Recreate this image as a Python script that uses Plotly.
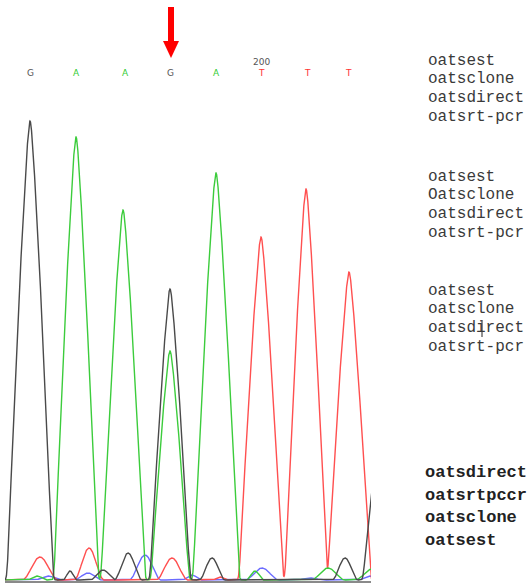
import numpy as np
import plotly.graph_objects as go

# Called bases and their scan positions
bases = ["G", "A", "A", "G", "A", "T", "T", "T"]
base_pos = [30, 76, 125, 170, 216, 261, 307, 348]
base_colors = {"G": "#555555", "A": "#33cc33", "T": "#ff3333", "C": "#4444ff"}

# Peaks per dye channel: (scan position, signal height, half base width)
g_peaks = [(30, 459, 23), (170, 291, 20), (70, 9, 7), (103, 10, 13), (128, 27, 14),
           (212, 22, 13), (345, 22, 13), (386, 202, 23)]
a_peaks = [(76, 443, 22), (123, 370, 22), (170, 229, 19), (216, 407, 23),
           (37, 4, 10), (255, 9, 9), (328, 12, 17), (372, 11, 17)]
t_peaks = [(40, 23, 18), (89, 32, 15), (172, 22, 16), (220, 3, 8),
           (261, 343, 22), (306, 391, 21), (349, 308, 21.5)]
c_peaks = [(48, 4, 14), (88, 7, 14), (145, 25, 16), (192, 5, 10),
           (262, 12, 17), (310, 2, 15), (370, 4, 12)]

channels = [
    ("C", c_peaks, "#6b6bff"),
    ("T", t_peaks, "#ff5050"),
    ("A", a_peaks, "#3ccc3c"),
    ("G", g_peaks, "#4a4a4a"),
]

# Sample names listed beside the trace
label_groups = [
    (["oatsest", "oatsclone", "oatsdirect", "oatsrt-pcr"], [61, 79, 98, 117]),
    (["oatsest", "Oatsclone", "oatsdirect", "oatsrt-pcr"], [177, 195, 214, 233]),
    (["oatsest", "oatsclone", "oatsdirect", "oatsrt-pcr"], [291, 309, 328, 347]),
]
bold_group = (["oatsdirect", "oatsrtpccr", "oatsclone", "oatsest"], [472, 495, 517, 540])

W, H = 528, 584
step = 0.1
scan = np.arange(0, 400 + step, step)

# small smoothing kernel to round the tips of the sharp peaks
ks = 1.0
kx = np.arange(-4 * ks, 4 * ks + step, step)
kernel = np.exp(-kx ** 2 / (2 * ks * ks))
kernel /= kernel.sum()


def peak_signal(peaks):
    total = np.zeros_like(scan)
    for c, h, w in peaks:
        d = np.abs(scan - c) / w
        if h >= 60:
            shape = np.clip(1 - d ** 1.25, 0, None)
            shape = np.convolve(shape, kernel, mode="same")
            total += h * shape / shape.max()
        else:
            total += h * np.where(d < 1, np.cos(np.pi * np.minimum(d, 1) / 2) ** 2, 0)
    return total


fig = go.Figure()
for name, peaks, color in channels:
    fig.add_trace(go.Scatter(x=scan, y=peak_signal(peaks), mode="lines", name=name,
                             line=dict(color=color, width=1.4),
                             hoverinfo="skip", showlegend=False))

annotations = []
# Base calls above the trace
for b, p in zip(bases, base_pos):
    annotations.append(dict(x=p, xref="x", y=1 - 73 / H, yref="paper", text=b,
                            showarrow=False, xanchor="center", yanchor="middle",
                            font=dict(family="DejaVu Sans", size=9, color=base_colors[b])))
annotations.append(dict(x=base_pos[5], xref="x", y=1 - 62 / H, yref="paper", text="200",
                        showarrow=False, xanchor="center", yanchor="middle",
                        font=dict(family="DejaVu Sans", size=9, color="#555555")))

for names, ys in label_groups:
    for t, yy in zip(names, ys):
        annotations.append(dict(x=426 / W, xref="paper", y=1 - yy / H, yref="paper", text=t,
                                showarrow=False, xanchor="left", yanchor="middle",
                                font=dict(family="Liberation Mono", size=16, color="#3a3a3a")))
for t, yy in zip(*bold_group):
    annotations.append(dict(x=423 / W, xref="paper", y=1 - yy / H, yref="paper", text=t,
                            showarrow=False, xanchor="left", yanchor="middle",
                            font=dict(family="Liberation Mono", size=17, color="#222222",
                                      weight="bold")))


def px(x):
    return x / W


def py(y):
    return 1 - y / H


shapes = [
    # red marker arrow over the variant base
    dict(type="rect", xref="paper", yref="paper", x0=px(168), x1=px(174),
         y0=py(42), y1=py(7), fillcolor="#ff0000", line=dict(width=0)),
    dict(type="path", xref="paper", yref="paper",
         path=f"M {px(163)} {py(41)} L {px(179)} {py(41)} L {px(171)} {py(58)} Z",
         fillcolor="#ff0000", line=dict(width=0)),
    # text cursor
    dict(type="line", xref="paper", yref="paper", x0=px(482), x1=px(482),
         y0=py(320), y1=py(337), line=dict(color="#222222", width=1)),
]

fig.update_layout(
    width=W, height=H,
    margin=dict(l=0, r=0, t=0, b=0),
    paper_bgcolor="white", plot_bgcolor="white",
    annotations=annotations, shapes=shapes,
    xaxis=dict(domain=[5 / W, 371 / W], range=[5, 371], showgrid=False,
               zeroline=False, showticklabels=False, ticks="",
               showline=True, linecolor="#8a8a8a", linewidth=2),
    yaxis=dict(domain=[3 / H, 1], range=[-1, 580], showgrid=False,
               zeroline=False, showticklabels=False, ticks="", showline=False),
)

fig.write_html("out.html")
